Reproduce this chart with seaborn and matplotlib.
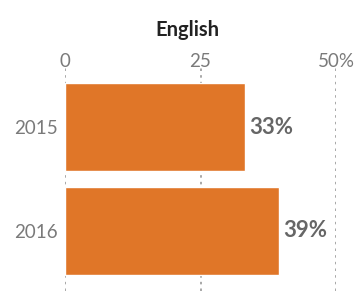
import matplotlib
matplotlib.use("Agg")
import matplotlib.pyplot as plt
import seaborn as sns
import pandas as pd

years = ["2015", "2016"]
values = [33.2, 39.5]
value_labels = ["33%", "39%"]
tick_values = [0, 25, 50]
tick_labels = ["0", "25", "50%"]
title = "English"

sns.set_theme(style="white")
plt.rcParams['font.family'] = ['Lato', 'DejaVu Sans']

df = pd.DataFrame({"year": years, "value": values})

fig = plt.figure(figsize=(3.59, 3.02), dpi=100)
ax = fig.add_axes([65/359, 1 - 291/302, (336-65)/359, (291-67)/302])

sns.barplot(data=df, x="value", y="year", orient="h", color="#E07628",
            saturation=1, width=0.846, ax=ax, zorder=2)

ax.set_xlim(0, 50)
ax.set_ylim(1.577, -0.577)
ax.set_xticks(tick_values)
ax.set_xticklabels(tick_labels)
ax.xaxis.tick_top()
ax.tick_params(axis="x", length=0, pad=-2, labelsize=13.5, colors="#7a7a7a")
ax.tick_params(axis="y", length=0, pad=5, labelsize=13.5, colors="#7a7a7a")
for v in tick_values:
    ax.axvline(v, color="#999999", linestyle=(0, (1.5, 2.5)), linewidth=1.2, zorder=1)
for s in ax.spines.values():
    s.set_visible(False)
ax.set_xlabel("")
ax.set_ylabel("")

for i, (v, t) in enumerate(zip(values, value_labels)):
    ax.text(v + 0.7, i, t, va="center", ha="left", fontsize=16,
            fontweight="bold", color="#666666")

fig.text(187/359, 1 - 30/302, title, ha="center", va="center", fontsize=14.5,
         fontweight="bold", color="#222222")

fig.savefig("out.png", dpi=100)
